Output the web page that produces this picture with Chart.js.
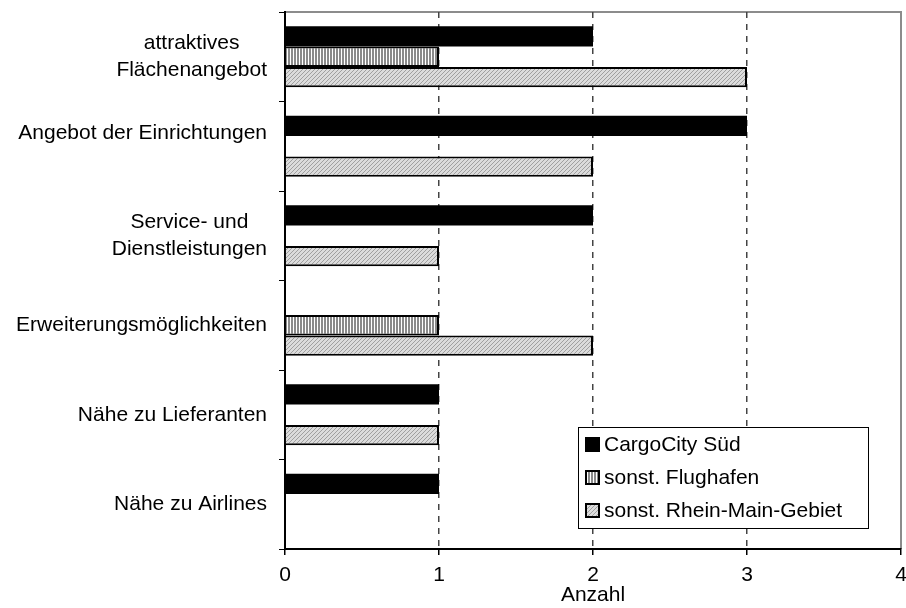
<!DOCTYPE html>
<html>
<head>
<meta charset="utf-8">
<script src="https://cdn.jsdelivr.net/npm/chart.js@4.4.1/dist/chart.umd.min.js"></script>
<style>
  html, body { margin: 0; padding: 0; background: #fff; }
  #wrap { width: 906px; height: 608px; }
</style>
</head>
<body>
<div id="wrap"><canvas id="mycanvas" width="906" height="608"></canvas></div>
<script>
// Kategorien (oben nach unten)
var categories = [
	["attraktives", "Flächenangebot"],
	["Angebot der Einrichtungen", ""],
	["Service- und", "Dienstleistungen"],
	["Erweiterungsmöglichkeiten"],
	["Nähe zu Lieferanten"],
	["Nähe zu Airlines"]
];
var seriesNames = ["CargoCity Süd", "sonst. Flughafen", "sonst. Rhein-Main-Gebiet"];
var cargoCity = [2, 3, 2, 0, 1, 1];
var flughafen = [1, 0, 0, 1, 0, 0];
var rheinMain = [3, 2, 1, 2, 1, 0];
var xTicks = [0, 1, 2, 3, 4];

var FONT = "Liberation Sans, Arial, sans-serif";

// Muster
function makeStripes() {
	var c = document.createElement("canvas");
	c.width = 3; c.height = 3;
	var g = c.getContext("2d");
	g.fillStyle = "#fff"; g.fillRect(0, 0, 3, 3);
	g.fillStyle = "#8a8a8a"; g.fillRect(0, 0, 2, 3);
	return g.createPattern(c, "repeat");
}
function makeHatch() {
	var c = document.createElement("canvas");
	c.width = 4; c.height = 4;
	var g = c.getContext("2d");
	g.fillStyle = "#dcdcdc"; g.fillRect(0, 0, 4, 4);
	g.fillStyle = "#a0a0a0";
	for (var i = 0; i < 4; i++) g.fillRect((3 - i + 4) % 4, i, 1, 1);
	return g.createPattern(c, "repeat");
}
var stripes = makeStripes();
var hatch = makeHatch();
var fills = ["#000", stripes, hatch];

// Rahmen oben/rechts + Legende + Beschriftungen
var extras = {
	id: "extras",
	beforeDraw: function(chart) {
		var a = chart.chartArea, ctx = chart.ctx;
		ctx.save();
		ctx.strokeStyle = "#8c8c8c";
		ctx.lineWidth = 2;
		ctx.beginPath();
		ctx.moveTo(a.left, a.top);
		ctx.lineTo(a.right, a.top);
		ctx.lineTo(a.right, a.bottom);
		ctx.stroke();
		ctx.restore();
	},
	afterDraw: function(chart) {
		var ctx = chart.ctx, y = chart.scales.y;
		ctx.save();
		ctx.font = "21px " + FONT;
		ctx.fillStyle = "#000";
		ctx.textAlign = "center";
		ctx.textBaseline = "middle";
		var right = 267, lh = 27;
		for (var i = 0; i < categories.length; i++) {
			var lines = categories[i], w = 0;
			for (var j = 0; j < lines.length; j++) w = Math.max(w, ctx.measureText(lines[j]).width);
			var cy = y.getPixelForValue(i);
			var top = cy - (lines.length - 1) * lh / 2;
			for (var j = 0; j < lines.length; j++) ctx.fillText(lines[j], right - w / 2, top + j * lh);
		}
		// Legende
		var lx = 578, ly = 427, lw = 290, lhgt = 101;
		ctx.fillStyle = "#fff";
		ctx.fillRect(lx, ly, lw, lhgt);
		ctx.strokeStyle = "#000";
		ctx.lineWidth = 1;
		ctx.strokeRect(lx + 0.5, ly + 0.5, lw, lhgt);
		ctx.textAlign = "left";
		for (var k = 0; k < seriesNames.length; k++) {
			var ry = ly + 17 + k * 33;
			ctx.fillStyle = fills[k];
			ctx.fillRect(lx + 8, ry - 6, 13, 13);
			ctx.lineWidth = 2;
			ctx.strokeStyle = "#000";
			ctx.strokeRect(lx + 8, ry - 6, 13, 13);
			ctx.fillStyle = "#000";
			ctx.fillText(seriesNames[k], lx + 26, ry + 1);
		}
		ctx.restore();
	}
};

var ctx = document.getElementById("mycanvas");
var chart = new Chart(ctx, {
	type: "bar",
	data: {
		labels: categories,
		datasets: [
			{ label: seriesNames[0], data: cargoCity, backgroundColor: fills[0], borderColor: "#000", borderWidth: 0 },
			{ label: seriesNames[1], data: flughafen, backgroundColor: fills[1], borderColor: "#000", borderWidth: 2 },
			{ label: seriesNames[2], data: rheinMain, backgroundColor: fills[2], borderColor: "#000", borderWidth: 2 }
		]
	},
	options: {
		indexAxis: "y",
		responsive: false,
		animation: false,
		layout: { padding: { left: 0, right: 5, top: 12, bottom: 0 } },
		datasets: { bar: { categoryPercentage: 0.68, barPercentage: 1.0 } },
		plugins: { legend: { display: false }, tooltip: { enabled: false } },
		scales: {
			x: {
				min: 0, max: 4,
				afterBuildTicks: function(s) { s.ticks = xTicks.map(function(v) { return { value: v }; }); },
				afterFit: function(s) { s.height = 59; s.paddingLeft = 0; s.paddingRight = 0; },
				border: { color: "#000", width: 2, dash: [6, 6] },
				grid: {
					color: function(c) { return (c.tick && (c.tick.value === 0 || c.tick.value === 4)) ? "rgba(0,0,0,0)" : "#444"; },
					lineWidth: 1.5,
					tickColor: "#000",
					tickLength: 6,
					tickBorderDash: []
				},
				ticks: { font: { family: FONT, size: 21 }, color: "#000", padding: 8, maxRotation: 0 },
				title: { display: true, text: "Anzahl", font: { family: FONT, size: 21 }, color: "#000", padding: { top: -6, bottom: 0 } }
			},
			y: {
				afterFit: function(s) { s.width = 285; },
				border: { color: "#000", width: 2 },
				grid: { drawOnChartArea: false, tickColor: "#000", tickLength: 6, offset: true },
				ticks: { display: false }
			}
		}
	},
	plugins: [extras]
});
</script>
</body>
</html>
